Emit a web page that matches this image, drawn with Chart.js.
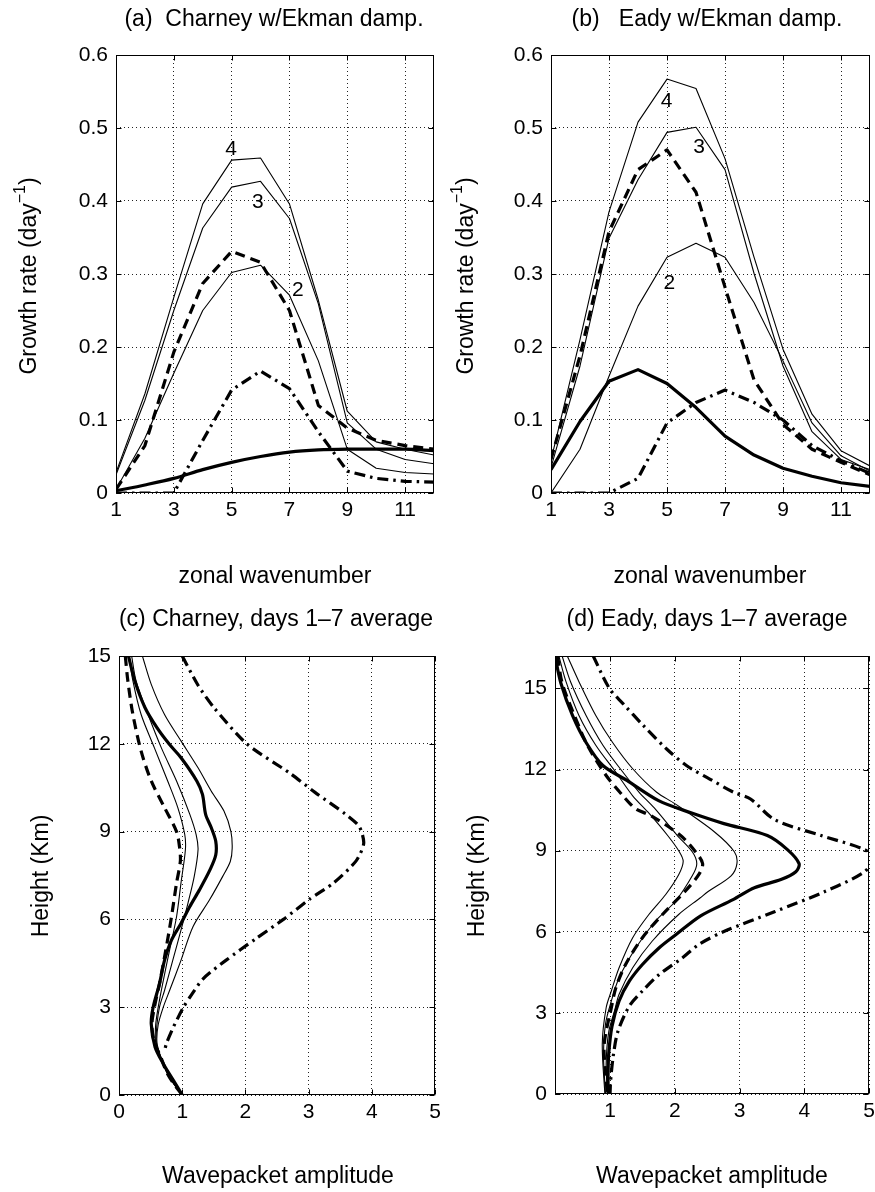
<!DOCTYPE html>
<html><head><meta charset="utf-8">
<script src="https://cdn.jsdelivr.net/npm/chart.js@4.4.1/dist/chart.umd.min.js"></script>
<style>
html,body{margin:0;padding:0;background:#fff;}
#wrap{position:relative;width:875px;height:1192px;overflow:hidden;background:#fff;}
canvas{position:absolute;}
</style></head><body><div id="wrap">
<canvas id="ca" width="440" height="600" style="left:0px;top:0px;width:440px;height:600px"></canvas>
<canvas id="cb" width="450" height="600" style="left:437px;top:0px;width:450px;height:600px"></canvas>
<canvas id="cc" width="446" height="592" style="left:0px;top:600px;width:446px;height:592px"></canvas>
<canvas id="cd" width="450" height="592" style="left:437px;top:600px;width:450px;height:592px"></canvas>
</div>
<script>
// ---------- tick values / labels ----------
const xTicksGrowth = [1, 3, 5, 7, 9, 11];
const xTickLabelsGrowth = ['1', '3', '5', '7', '9', '11'];
const yTicksGrowth = [0, 0.1, 0.2, 0.3, 0.4, 0.5, 0.6];
const yTickLabelsGrowth = ['0', '0.1', '0.2', '0.3', '0.4', '0.5', '0.6'];
const xTicksC = [0, 1, 2, 3, 4, 5];
const xTickLabelsC = ['0', '1', '2', '3', '4', '5'];
const xTicksD = [1, 2, 3, 4, 5];
const xTickLabelsD = ['1', '2', '3', '4', '5'];
const yTicksHeight = [0, 3, 6, 9, 12, 15];
const yTickLabelsHeight = ['0', '3', '6', '9', '12', '15'];

// ---------- (a) Charney w/Ekman damping ----------
const wavenumbers = [1, 2, 3, 4, 5, 6, 7, 8, 9, 10, 11, 12];
const aCurve4  = [0.028, 0.136, 0.268, 0.396, 0.456, 0.459, 0.396, 0.264, 0.112, 0.070, 0.060, 0.052];
const aCurve3  = [0.025, 0.127, 0.250, 0.363, 0.419, 0.427, 0.376, 0.259, 0.096, 0.060, 0.046, 0.040];
const aCurve2  = [0.005, 0.075, 0.164, 0.250, 0.302, 0.312, 0.271, 0.181, 0.060, 0.034, 0.028, 0.026];
const aDashed  = [0.005, 0.065, 0.193, 0.287, 0.331, 0.316, 0.250, 0.120, 0.089, 0.072, 0.065, 0.060];
const aDashDot = [0.000, 0.000, 0.000, 0.072, 0.141, 0.167, 0.143, 0.084, 0.030, 0.020, 0.016, 0.015];
const aThick   = [0.003, 0.011, 0.020, 0.032, 0.042, 0.050, 0.056, 0.059, 0.060, 0.060, 0.060, 0.058];
const aLabels = [{text: '4', x: 4.98, y: 0.471}, {text: '3', x: 5.91, y: 0.398}, {text: '2', x: 7.29, y: 0.278}];

// ---------- (b) Eady w/Ekman damping ----------
const bCurve4  = [0.045, 0.210, 0.385, 0.508, 0.567, 0.554, 0.458, 0.323, 0.197, 0.108, 0.058, 0.037];
const bCurve3  = [0.035, 0.174, 0.349, 0.429, 0.494, 0.501, 0.443, 0.301, 0.174, 0.084, 0.046, 0.032];
const bCurve2  = [0.000, 0.060, 0.160, 0.256, 0.323, 0.342, 0.323, 0.261, 0.181, 0.096, 0.051, 0.030];
const bDashed  = [0.046, 0.188, 0.358, 0.443, 0.470, 0.412, 0.282, 0.155, 0.094, 0.060, 0.042, 0.025];
const bDashDot = [0.000, 0.000, 0.000, 0.020, 0.096, 0.124, 0.141, 0.124, 0.100, 0.065, 0.044, 0.027];
const bThick   = [0.032, 0.098, 0.153, 0.169, 0.150, 0.117, 0.078, 0.052, 0.034, 0.023, 0.014, 0.009];
const bLabels = [{text: '4', x: 4.99, y: 0.537}, {text: '3', x: 6.11, y: 0.474}, {text: '2', x: 5.08, y: 0.288}];

// ---------- (c) Charney, days 1-7 average (amplitude vs height) ----------
const cThickH = [15, 14.15, 13.24, 12.55, 12, 11.5, 10.73, 10.27, 9.59, 9.13, 8.67, 8.2, 7.7, 7.0, 6.44, 5.86, 5.29, 4.6, 3.8, 3.0, 2.43, 1.64, 1.07, 0.5, 0];
const cThickA = [0.15, 0.25, 0.41, 0.6, 0.79, 0.99, 1.23, 1.32, 1.37, 1.46, 1.53, 1.53, 1.44, 1.27, 1.12, 0.98, 0.83, 0.72, 0.64, 0.54, 0.51, 0.57, 0.7, 0.86, 1.0];
const cOuterH = [15, 14.03, 13, 12.1, 11.18, 10.38, 9.7, 9.0, 8.43, 7.98, 7.47, 6.66, 5.75, 4.6, 3.57, 3.0, 2.4, 1.8, 1.3, 0.8, 0.4, 0];
const cOuterA = [0.37, 0.51, 0.72, 0.98, 1.25, 1.46, 1.66, 1.77, 1.79, 1.76, 1.64, 1.43, 1.17, 0.98, 0.8, 0.7, 0.62, 0.6, 0.66, 0.75, 0.86, 1.0];
const cMidH = [15, 14.15, 13.0, 11.86, 10.73, 9.59, 8.9, 8.38, 7.47, 6.55, 5.63, 4.6, 3.57, 3.0, 2.4, 1.8, 1.3, 0.8, 0.4, 0];
const cMidA = [0.2, 0.27, 0.46, 0.67, 0.91, 1.12, 1.22, 1.25, 1.19, 1.09, 0.98, 0.85, 0.72, 0.64, 0.6, 0.59, 0.66, 0.75, 0.86, 1.0];
const cInnerH = [15, 14.15, 13.0, 11.86, 10.73, 9.82, 8.9, 8.38, 7.24, 6.09, 4.95, 3.8, 3.0, 2.4, 1.8, 1.3, 0.8, 0.4, 0];
const cInnerA = [0.16, 0.22, 0.35, 0.56, 0.77, 0.93, 1.04, 1.05, 0.98, 0.91, 0.8, 0.69, 0.62, 0.58, 0.58, 0.66, 0.75, 0.86, 1.0];
const cDashedH = [15, 14.15, 13, 11.75, 10.73, 9.82, 9.0, 8.43, 7.98, 7.24, 6.09, 4.95, 3.8, 3.0, 2.4, 1.8, 1.3, 0.8, 0.4, 0];
const cDashedA = [0.1, 0.14, 0.22, 0.35, 0.51, 0.72, 0.91, 0.96, 0.97, 0.91, 0.83, 0.74, 0.64, 0.56, 0.52, 0.56, 0.66, 0.75, 0.86, 1.0];
const cDashDotH = [15, 14, 13.24, 12, 11, 10.34, 9.6, 9.17, 8.6, 8.0, 7.24, 6.7, 6.0, 5.35, 4.6, 3.97, 3.34, 3.0, 2.32, 1.76, 1.5];
const cDashDotA = [1.0, 1.25, 1.5, 2.02, 2.7, 3.1, 3.58, 3.8, 3.87, 3.75, 3.39, 3.02, 2.6, 2.17, 1.69, 1.33, 1.12, 1.02, 0.86, 0.75, 0.72];

// ---------- (d) Eady, days 1-7 average ----------
const dThickH = [16.2, 15.2, 14.0, 13.0, 12.15, 11.6, 10.85, 10.4, 10.0, 9.56, 9.04, 8.52, 8.22, 7.93, 7.63, 7.19, 6.59, 5.9, 5.41, 4.79, 4.18, 3.44, 2.5, 1.5, 0.8, 0];
const dThickA = [0.15, 0.24, 0.42, 0.63, 0.89, 1.26, 1.75, 2.25, 2.76, 3.43, 3.74, 3.92, 3.87, 3.64, 3.23, 2.9, 2.4, 2.02, 1.76, 1.5, 1.3, 1.14, 1.03, 0.98, 0.97, 0.97];
const dOuterH = [16.2, 15.25, 14.0, 13.0, 12.03, 11.16, 10.74, 9.7, 8.96, 8.52, 8.07, 7.48, 7.25, 6.64, 5.65, 4.67, 3.69, 3.07, 2.3, 1.11, 0];
const dOuterA = [0.34, 0.52, 0.78, 1.04, 1.35, 1.72, 2.0, 2.61, 2.92, 2.96, 2.87, 2.51, 2.39, 2.06, 1.65, 1.35, 1.14, 1.07, 0.98, 0.94, 0.96];
const dMidH = [16.2, 15.25, 14.0, 12.9, 11.9, 11.16, 10.59, 9.56, 8.96, 8.52, 8.07, 7.13, 6.39, 5.41, 4.3, 3.44, 2.59, 1.41, 0];
const dMidA = [0.26, 0.39, 0.63, 0.89, 1.2, 1.45, 1.68, 2.04, 2.27, 2.34, 2.27, 2.01, 1.7, 1.4, 1.14, 1.02, 0.93, 0.9, 0.93];
const dInnerH = [16.2, 15.25, 14.0, 12.9, 11.9, 11.03, 10.44, 9.56, 8.96, 8.6, 8.11, 7.38, 6.64, 5.78, 4.67, 3.81, 3.19, 1.85, 0];
const dInnerA = [0.21, 0.32, 0.52, 0.78, 1.09, 1.35, 1.58, 1.89, 2.07, 2.13, 2.06, 1.86, 1.6, 1.35, 1.14, 1.02, 0.94, 0.88, 0.92];
const dDashedH = [16.2, 15.2, 14.0, 12.9, 11.78, 11.03, 10.54, 10.3, 9.56, 8.96, 8.52, 8.11, 7.5, 6.64, 5.78, 4.79, 3.93, 3.19, 1.85, 0.81, 0];
const dDashedA = [0.19, 0.26, 0.45, 0.65, 0.94, 1.2, 1.4, 1.63, 2.09, 2.32, 2.43, 2.37, 2.16, 1.81, 1.5, 1.24, 1.09, 1.02, 0.91, 0.93, 0.96];
const dDashDotH = [16.2, 15, 14.44, 13.64, 12.77, 12.15, 11.65, 11.16, 10.91, 10.15, 9.56, 9.04, 8.74, 8.22, 7.48, 6.74, 6.0, 5.53, 5.04, 4.42, 3.81, 3.26, 2.3, 1.41, 0.52, 0];
const dDashDotA = [0.74, 0.99, 1.2, 1.51, 1.87, 2.18, 2.54, 2.91, 3.17, 3.54, 4.26, 4.93, 5.05, 4.93, 4.31, 3.54, 2.75, 2.37, 2.12, 1.76, 1.5, 1.3, 1.12, 1.05, 1.01, 1.0];

// ---------- helpers ----------
const FONT = "'Liberation Sans', Arial, Helvetica, sans-serif";
const pairs = (xs, ys) => xs.map((x, i) => ({x: x, y: ys[i]}));

const STYLES = {
  thin:    {borderWidth: 1.1},
  thick:   {borderWidth: 3.2},
  dashed:  {borderWidth: 3.2, borderDash: [10, 6]},
  dashdot: {borderWidth: 3.2, borderDash: [11, 5, 2.5, 5]}
};
function ds(data, style, tension) {
  return Object.assign({
    data: data, borderColor: '#000', backgroundColor: '#000', pointRadius: 0,
    pointHoverRadius: 0, fill: false, tension: tension, borderCapStyle: 'butt', borderJoinStyle: 'round'
  }, STYLES[style]);
}
function axis(min, max, ticks, labels, isX, size, pad) {
  return {
    type: 'linear', min: min, max: max,
    afterBuildTicks: s => { s.ticks = ticks.map(v => ({value: v})); },
    afterFit: s => { if (isX) s.height = size; else s.width = size; },
    ticks: {color: '#000', font: {family: FONT, size: 21}, padding: pad, autoSkip: false, maxRotation: 0, minRotation: 0,
            callback: (v, i) => labels[i]},
    grid: {color: '#222', lineWidth: 1, drawTicks: false},
    border: {display: false, dash: [1, 3]}
  };
}

const framePlugin = {
  id: 'frame',
  afterDatasetsDraw(chart) {
    const {ctx, chartArea: a, scales} = chart;
    const L = Math.round(a.left) + 0.5, T = Math.round(a.top) + 0.5;
    const R = Math.round(a.right) - 0.5, B = Math.round(a.bottom) - 0.5;
    ctx.save();
    ctx.strokeStyle = '#000'; ctx.lineWidth = 1; ctx.setLineDash([]);
    ctx.strokeRect(L, T, R - L, B - T);
    const tl = 5;
    ctx.beginPath();
    scales.x.ticks.forEach(t => {
      const p = Math.round(scales.x.getPixelForValue(t.value)) + 0.5;
      ctx.moveTo(p, B); ctx.lineTo(p, B - tl);
      ctx.moveTo(p, T); ctx.lineTo(p, T + tl);
    });
    scales.y.ticks.forEach(t => {
      const p = Math.round(scales.y.getPixelForValue(t.value)) + 0.5;
      ctx.moveTo(L, p); ctx.lineTo(L + tl, p);
      ctx.moveTo(R, p); ctx.lineTo(R - tl, p);
    });
    ctx.stroke();
    ctx.restore();
  }
};

function drawText(ctx, it, ox, oy) {
  ctx.save();
  ctx.fillStyle = '#000';
  ctx.translate(it.x - ox, it.y - oy);
  if (it.rotate) ctx.rotate(-Math.PI / 2);
  ctx.textBaseline = 'middle';
  const main = it.size + 'px ' + FONT;
  if (it.sup) {
    const supFont = Math.round(it.size * 0.68) + 'px ' + FONT;
    ctx.font = main; const w1 = ctx.measureText(it.text).width; const w3 = ctx.measureText(it.tail).width;
    ctx.font = supFont; const w2 = ctx.measureText(it.sup).width;
    let x = -(w1 + w2 + w3) / 2;
    ctx.textAlign = 'left';
    ctx.font = main; ctx.fillText(it.text, x, 0); x += w1;
    ctx.font = supFont; ctx.fillText(it.sup, x, -it.size * 0.42); x += w2;
    ctx.font = main; ctx.fillText(it.tail, x, 0);
  } else {
    ctx.font = main; ctx.textAlign = 'center'; ctx.fillText(it.text, 0, 0);
  }
  ctx.restore();
}

const textPlugin = {
  id: 'panelText',
  afterDraw(chart, args, opts) {
    const ctx = chart.ctx;
    (opts.items || []).forEach(it => drawText(ctx, it, opts.ox, opts.oy));
    const xs = chart.scales.x, ys = chart.scales.y;
    (opts.curveLabels || []).forEach(l => {
      drawText(ctx, {text: l.text, size: 21, x: xs.getPixelForValue(l.x), y: ys.getPixelForValue(l.y)}, 0, 0);
    });
  }
};

function makeChart(id, datasets, xAxis, yAxis, pad, texts, ox, oy, curveLabels) {
  return new Chart(document.getElementById(id), {
    type: 'line',
    data: {datasets: datasets},
    options: {
      responsive: false, animation: false, devicePixelRatio: 1,
      layout: {padding: pad},
      parsing: true,
      plugins: {legend: {display: false}, tooltip: {enabled: false}, title: {display: false},
                panelText: {items: texts, ox: ox, oy: oy, curveLabels: curveLabels || []}},
      scales: {x: xAxis, y: yAxis}
    },
    plugins: [framePlugin, textPlugin]
  });
}

const T = 23;
// (a)
makeChart('ca', [
  ds(pairs(wavenumbers, aCurve4), 'thin', 0),
  ds(pairs(wavenumbers, aCurve3), 'thin', 0),
  ds(pairs(wavenumbers, aCurve2), 'thin', 0),
  ds(pairs(wavenumbers, aDashDot), 'dashdot', 0),
  ds(pairs(wavenumbers, aDashed), 'dashed', 0),
  ds(pairs(wavenumbers, aThick), 'thick', 0.3)
],
  axis(1, 12, xTicksGrowth, xTickLabelsGrowth, true, 107, 5),
  axis(0, 0.6, yTicksGrowth, yTickLabelsGrowth, false, 116, 8),
  {left: 0, top: 55, right: 6, bottom: 0},
  [{text: '(a)  Charney w/Ekman damp.', x: 274, y: 20, size: T},
   {text: 'zonal wavenumber', x: 275, y: 577, size: T},
   {text: 'Growth rate (day', sup: '\u22121', tail: ')', x: 30, y: 276, size: T, rotate: true}],
  0, 0, aLabels);

// (b)
makeChart('cb', [
  ds(pairs(wavenumbers, bCurve4), 'thin', 0),
  ds(pairs(wavenumbers, bCurve3), 'thin', 0),
  ds(pairs(wavenumbers, bCurve2), 'thin', 0),
  ds(pairs(wavenumbers, bDashDot), 'dashdot', 0),
  ds(pairs(wavenumbers, bDashed), 'dashed', 0),
  ds(pairs(wavenumbers, bThick), 'thick', 0)
],
  axis(1, 12, xTicksGrowth, xTickLabelsGrowth, true, 107, 5),
  axis(0, 0.6, yTicksGrowth, yTickLabelsGrowth, false, 114, 8),
  {left: 0, top: 55, right: 17, bottom: 0},
  [{text: '(b)   Eady w/Ekman damp.', x: 707, y: 20, size: T},
   {text: 'zonal wavenumber', x: 710, y: 577, size: T},
   {text: 'Growth rate (day', sup: '\u22121', tail: ')', x: 467, y: 276, size: T, rotate: true}],
  437, 0, bLabels);

// (c)
makeChart('cc', [
  ds(pairs(cOuterA, cOuterH), 'thin', 0.3),
  ds(pairs(cMidA, cMidH), 'thin', 0.3),
  ds(pairs(cInnerA, cInnerH), 'thin', 0.3),
  ds(pairs(cDashDotA, cDashDotH), 'dashdot', 0.25),
  ds(pairs(cDashedA, cDashedH), 'dashed', 0.3),
  ds(pairs(cThickA, cThickH), 'thick', 0.3)
],
  axis(0, 5, xTicksC, xTickLabelsC, true, 97, 5),
  axis(0, 15, yTicksHeight, yTickLabelsHeight, false, 119, 8),
  {left: 0, top: 56, right: 10, bottom: 0},
  [{text: '(c) Charney, days 1\u20137 average', x: 276, y: 620, size: T},
   {text: 'Wavepacket amplitude', x: 278, y: 1177, size: T},
   {text: 'Height (Km)', x: 42, y: 876, size: T, rotate: true}],
  0, 600);

// (d)
makeChart('cd', [
  ds(pairs(dOuterA, dOuterH), 'thin', 0.3),
  ds(pairs(dMidA, dMidH), 'thin', 0.3),
  ds(pairs(dInnerA, dInnerH), 'thin', 0.3),
  ds(pairs(dDashDotA, dDashDotH), 'dashdot', 0.3),
  ds(pairs(dDashedA, dDashedH), 'dashed', 0.3),
  ds(pairs(dThickA, dThickH), 'thick', 0.3)
],
  axis(0.15, 5, xTicksD, xTickLabelsD, true, 98, 5),
  axis(0, 16.2, yTicksHeight, yTickLabelsHeight, false, 118, 8),
  {left: 0, top: 56, right: 18, bottom: 0},
  [{text: '(d) Eady, days 1\u20137 average', x: 707, y: 620, size: T},
   {text: 'Wavepacket amplitude', x: 712, y: 1177, size: T},
   {text: 'Height (Km)', x: 478, y: 876, size: T, rotate: true}],
  437, 600);
</script>
</body></html>
